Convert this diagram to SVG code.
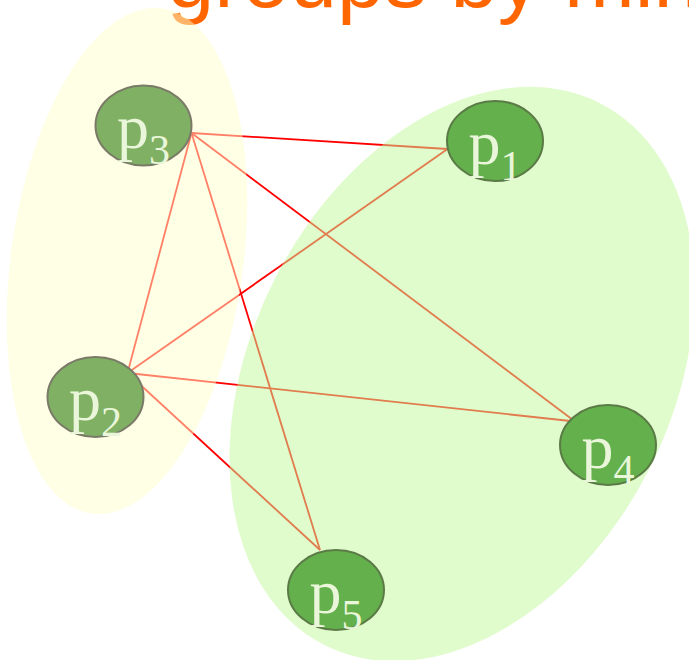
<svg xmlns="http://www.w3.org/2000/svg" width="689" height="660" viewBox="0 0 689 660">
  <style>
    .title { font-family: "Liberation Sans", Arial, sans-serif; font-size: 85px; fill: #ff6600; }
    .edge { stroke: #ff0000; stroke-width: 1.8; fill: none; }
    .grpY { fill: #ffffcc; fill-opacity: 0.5; }
    .grpG { fill: #c2f89a; fill-opacity: 0.5; }
    .nodeY { fill: #80b064; stroke: #7a7a68; stroke-width: 2; }
    .nodeG { fill: #64b04c; stroke: #5a7a46; stroke-width: 2; }
    .lbl { font-family: "Liberation Serif", "Times New Roman", serif; font-size: 64px; fill: #eaf6da; text-anchor: middle; }
    .sub { font-size: 42px; }
  </style>
  <rect width="689" height="660" fill="#ffffff"/>
  <text class="title" x="167" y="7">groups by min</text>
  <g id="connectors">
    <line class="edge" x1="191.5" y1="133" x2="447.5" y2="149"/>
    <line class="edge" x1="191.5" y1="133" x2="575" y2="421.5"/>
    <line class="edge" x1="191.5" y1="133" x2="320" y2="550"/>
    <line class="edge" x1="191.5" y1="133" x2="127.5" y2="373"/>
    <line class="edge" x1="127.5" y1="373" x2="447.5" y2="149"/>
    <line class="edge" x1="127.5" y1="373" x2="575" y2="421.5"/>
    <line class="edge" x1="127.5" y1="373" x2="320" y2="550"/>
  </g>
  <g id="group-yellow">
    <ellipse class="grpY" cx="0" cy="0" rx="116" ry="255" transform="translate(127 261) rotate(8)"/>
  </g>
  <g id="group-green">
    <ellipse class="grpG" cx="0" cy="0" rx="210" ry="304" transform="translate(462 374) rotate(27)"/>
  </g>
  <g id="p3">
    <ellipse class="nodeY" cx="143.5" cy="125.5" rx="48" ry="40"/>
    <text class="lbl" x="143.5" y="148">p<tspan class="sub" dy="16">3</tspan></text>
  </g>
  <g id="p2">
    <ellipse class="nodeY" cx="95.5" cy="397" rx="48" ry="40"/>
    <text class="lbl" x="95.5" y="420">p<tspan class="sub" dy="16">2</tspan></text>
  </g>
  <g id="p1">
    <ellipse class="nodeG" cx="495" cy="141" rx="48" ry="40"/>
    <text class="lbl" x="495" y="164">p<tspan class="sub" dy="16">1</tspan></text>
  </g>
  <g id="p4">
    <ellipse class="nodeG" cx="608" cy="445" rx="48" ry="40"/>
    <text class="lbl" x="608" y="468">p<tspan class="sub" dy="16">4</tspan></text>
  </g>
  <g id="p5">
    <ellipse class="nodeG" cx="336" cy="590" rx="48" ry="40"/>
    <text class="lbl" x="336" y="613">p<tspan class="sub" dy="16">5</tspan></text>
  </g>
</svg>
